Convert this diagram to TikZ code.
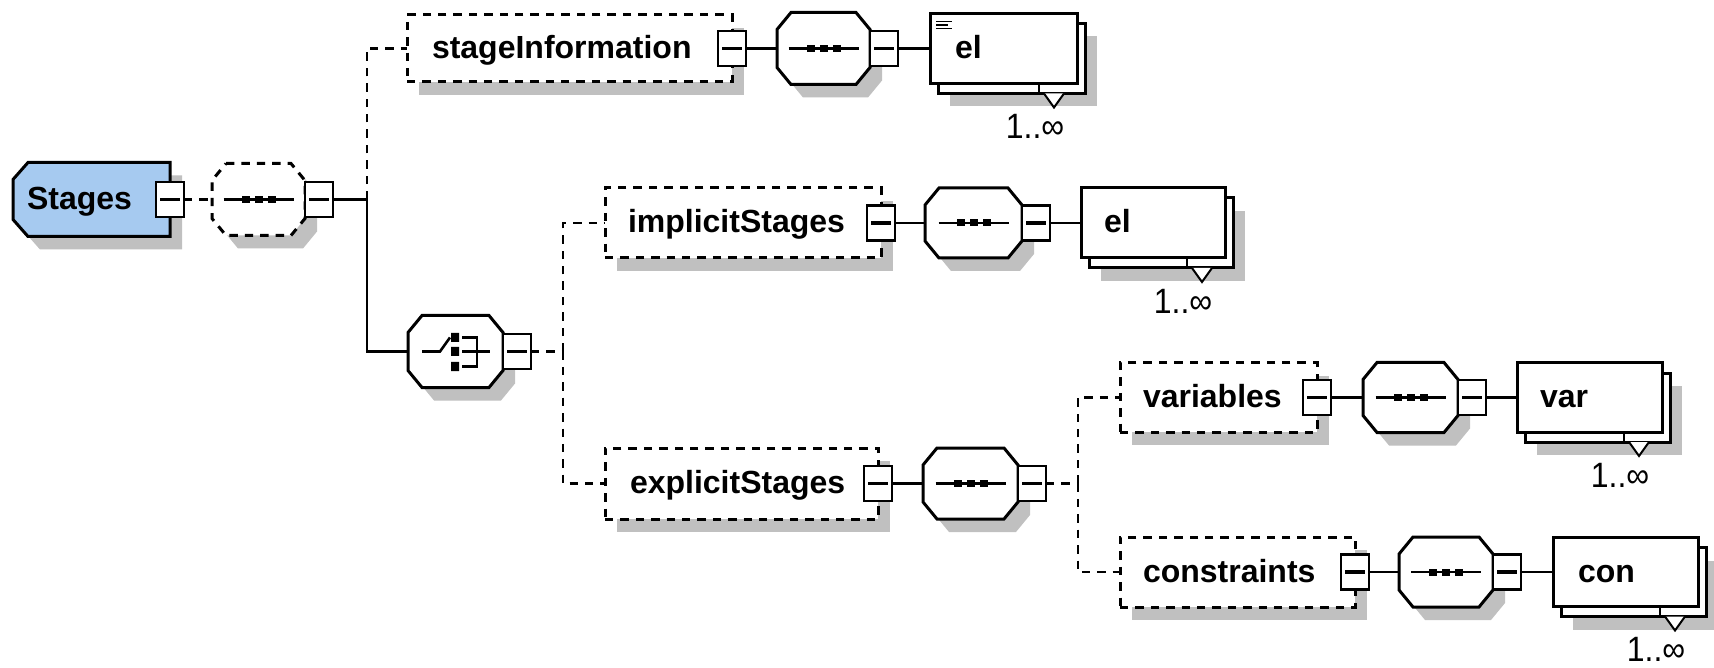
\documentclass[tikz,border=0pt]{standalone}
\usepackage{fontspec}
\setmainfont{Liberation Sans}
\definecolor{shadowgray}{RGB}{192,192,192}
\definecolor{rootfill}{RGB}{166,202,240}
\pgfdeclarelayer{bg}
\pgfsetlayers{bg,main}

% octagonal outline round the bounds of node #1, moved by #2, drawn with options #3
\newcommand\octo[3]{%
  \path[#3] ([shift={#2},xshift=7pt]#1.north west) -- ([shift={#2},xshift=-7pt]#1.north east)
    -- ([shift={#2},yshift=-8.5pt]#1.north east) -- ([shift={#2},yshift=8.5pt]#1.south east)
    -- ([shift={#2},xshift=-7pt]#1.south east) -- ([shift={#2},xshift=7pt]#1.south west)
    -- ([shift={#2},yshift=8.5pt]#1.south west) -- ([shift={#2},yshift=-8.5pt]#1.north west) -- cycle;}

\begin{document}
\begin{tikzpicture}[x=0.5pt,y=-0.5pt,
  every node/.style={inner sep=0pt,outer sep=0pt},
  conn/.style={line width=1.3pt},
  opt/.style={dash pattern=on 4.2pt off 3.5pt},
  tag/.style={font=\bfseries\fontsize{16}{19}\selectfont,text height=10pt,text depth=0pt,align=left},
  elemopt/.style={tag,draw,opt,fill=white,line width=1.5pt},
  elemreq/.style={tag,draw,fill=white,line width=1.5pt},
  elemback/.style={draw,fill=white,line width=1.5pt},
  hub/.style 2 args={minimum width=#1,minimum height=#2},
  minusbox/.style={draw,fill=white,line width=1.3pt,minimum width=14pt,minimum height=17.5pt,
    path picture={\draw[line width=1.6pt] ([xshift=2pt]path picture bounding box.west) -- ([xshift=-2pt]path picture bounding box.east);}},
  mult/.style={font=\fontsize{16}{19}\selectfont}]

\useasboundingbox (0,0) rectangle (1714,668);

% root element and its optional sequence
\node[tag,minimum width=78.5pt,minimum height=37pt,inner xsep=7pt,text width=64.5pt] (stages) at (91.5,199.5) {Stages};
\node[minusbox] (stages-m) at (stages.east) {};
\node[hub={46.5pt}{36pt}] (seq0) at (258.5,199.5) {};
\node[minusbox,anchor=west] (seq0-m) at (seq0.east) {};
\coordinate (bus1) at (367,199.5);

% stageInformation branch
\node[elemopt,minimum width=162.5pt,minimum height=33.5pt,inner xsep=12.5pt,text width=137.5pt] (si) at (569.5,48.5) {stageInformation};
\node[minusbox] (si-m) at (si.east) {};
\node[hub={46.5pt}{36pt}] (seq1) at (823.5,48.5) {};
\node[minusbox,anchor=west] (seq1-m) at (seq1.east) {};
\node[elemback,minimum width=73.5pt,minimum height=35pt] (el1-back) at (1011.5,58.5) {};
\node[elemreq,minimum width=73.5pt,minimum height=35pt,inner xsep=12.5pt,text width=48.5pt] (el1) at (1003.5,48.5) {el};

% choice
\node[hub={47.5pt}{36pt}] (choice) at (455.5,351.5) {};
\node[minusbox,anchor=west] (choice-m) at (choice.east) {};
\coordinate (bus2) at (563,351.5);

% implicitStages branch
\node[elemopt,minimum width=138pt,minimum height=35pt,inner xsep=11.5pt,text width=115pt] (impl) at (743,223) {implicitStages};
\node[minusbox] (impl-m) at (impl.east) {};
\node[hub={48.5pt}{35pt}] (seq2) at (973.5,223) {};
\node[minusbox,anchor=west] (seq2-m) at (seq2.east) {};
\node[elemback,minimum width=72pt,minimum height=35pt] (el2-back) at (1161,233) {};
\node[elemreq,minimum width=72pt,minimum height=35pt,inner xsep=11.5pt,text width=49pt] (el2) at (1153,223) {el};

% explicitStages branch
\node[elemopt,minimum width=136.5pt,minimum height=35.5pt,inner xsep=12.5pt,text width=111.5pt] (expl) at (741.5,483.5) {explicitStages};
\node[minusbox] (expl-m) at (expl.east) {};
\node[hub={47.5pt}{35.5pt}] (seq3) at (970.5,483.5) {};
\node[minusbox,anchor=west] (seq3-m) at (seq3.east) {};
\coordinate (bus3) at (1078,483.5);

% variables
\node[elemopt,minimum width=98.5pt,minimum height=34.5pt,inner xsep=11.5pt,text width=75.5pt] (vars) at (1218.5,397.5) {variables};
\node[minusbox] (vars-m) at (vars.east) {};
\node[hub={47.5pt}{35pt}] (seq4) at (1410.5,397.5) {};
\node[minusbox,anchor=west] (seq4-m) at (seq4.east) {};
\node[elemback,minimum width=72.5pt,minimum height=34.5pt] (var-back) at (1597.5,407.5) {};
\node[elemreq,minimum width=72.5pt,minimum height=34.5pt,inner xsep=11.5pt,text width=49.5pt] (var) at (1589.5,397.5) {var};

% constraints
\node[elemopt,minimum width=117.5pt,minimum height=35pt,inner xsep=11.5pt,text width=94.5pt] (cons) at (1237.5,572) {constraints};
\node[minusbox] (cons-m) at (cons.east) {};
\node[hub={47pt}{35pt}] (seq5) at (1446,572) {};
\node[minusbox,anchor=west] (seq5-m) at (seq5.east) {};
\node[elemback,minimum width=72.5pt,minimum height=34.5pt] (con-back) at (1633.5,582) {};
\node[elemreq,minimum width=72.5pt,minimum height=34.5pt,inner xsep=12.5pt,text width=47.5pt] (con) at (1625.5,572) {con};

% multiplicity notches and labels
\foreach \n in {el1,el2,var,con}{
  \draw[line width=1.2pt] ([xshift=-23pt,yshift=5pt]\n-back.south east) -- ([xshift=-23pt]\n-back.south east);
  \filldraw[fill=white,line width=1pt] ([xshift=-20.5pt]\n-back.south east) -- ([xshift=-15.5pt,yshift=-7pt]\n-back.south east) -- ([xshift=-10.5pt]\n-back.south east);
  \node[mult] (\n-n) at ([xshift=-25pt,yshift=-16.5pt]\n-back.south east) {\scalebox{1}[1.1]{1..∞}};
}

% documentation mark on the first el
\draw[line width=0.8pt] ([xshift=3pt,yshift=-4pt]el1.north west) -- ++(16,0)
  ([xshift=3pt,yshift=-5.75pt]el1.north west) -- ++(12,0)
  ([xshift=3pt,yshift=-7.5pt]el1.north west) -- ++(16,0);

% sequence icons
\foreach \n in {seq0,seq1,seq2,seq3,seq4,seq5}{
  \begin{scope}[shift={(\n.center)}]
    \draw[line width=1.3pt] (-35,0) -- (35,0);
    \foreach \d in {-13,0,13} \fill (\d-4,-3.5) rectangle (\d+4,3.5);
  \end{scope}
}

% choice icon
\begin{scope}[shift={(choice.center)},line width=1.3pt]
  \draw (-33.5,0) -- (-15.5,0) -- (-5.5,-14);
  \fill (-4.5,-18.5) rectangle (3.5,-9.5) (-4.5,-4.5) rectangle (3.5,4.5) (-4.5,10.5) rectangle (3.5,19.5);
  \draw (6.5,-14) -- (21.5,-14) -- (21.5,15) -- (6.5,15);
  \draw (6.5,0) -- (34.5,0);
\end{scope}

% connectors
\draw[conn,opt] (stages-m.east) -- (seq0.west);
\draw[conn] (seq0-m.east) -- (bus1);
\draw[conn,opt] (bus1) |- (si.west);
\draw[conn] (bus1) |- (choice.west);
\draw[conn] (si-m.east) -- (seq1.west);
\draw[conn] (seq1-m.east) -- (el1.west);
\draw[conn,opt] (choice-m.east) -- (bus2);
\draw[conn,opt] (bus2) |- (impl.west);
\draw[conn,opt] (bus2) |- (expl.west);
\draw[conn] (impl-m.east) -- (seq2.west);
\draw[conn] (seq2-m.east) -- (el2.west);
\draw[conn] (expl-m.east) -- (seq3.west);
\draw[conn,opt] (seq3-m.east) -- (bus3);
\draw[conn,opt] (bus3) |- (vars.west);
\draw[conn,opt] (bus3) |- (cons.west);
\draw[conn] (vars-m.east) -- (seq4.west);
\draw[conn] (seq4-m.east) -- (var.west);
\draw[conn] (cons-m.east) -- (seq5.west);
\draw[conn] (seq5-m.east) -- (con.west);

% shadows and outlines underneath
\begin{pgfonlayer}{bg}
  \fill[white] (0,0) rectangle (1714,668);
  \foreach \n in {si,impl,expl,vars,cons,el1-back,el2-back,var-back,con-back}
    \fill[shadowgray] ([shift={(6pt,-6.5pt)}]\n.south west) rectangle ([shift={(6pt,-6.5pt)}]\n.north east);
  \foreach \n in {seq0,seq1,seq2,seq3,seq4,seq5,choice}
    \octo{\n}{(6pt,-6.5pt)}{fill=shadowgray};
  \fill[shadowgray] ([shift={(6pt,-6.5pt)},xshift=7.5pt]stages.north west) -- ([shift={(6pt,-6.5pt)}]stages.north east)
    -- ([shift={(6pt,-6.5pt)}]stages.south east) -- ([shift={(6pt,-6.5pt)},xshift=7.5pt]stages.south west)
    -- ([shift={(6pt,-6.5pt)},yshift=8.5pt]stages.south west) -- ([shift={(6pt,-6.5pt)},yshift=-8.5pt]stages.north west) -- cycle;
  \filldraw[fill=rootfill,line width=1.5pt] ([xshift=7.5pt]stages.north west) -- (stages.north east)
    -- (stages.south east) -- ([xshift=7.5pt]stages.south west)
    -- ([yshift=8.5pt]stages.south west) -- ([yshift=-8.5pt]stages.north west) -- cycle;
  \octo{seq0}{(0pt,0pt)}{draw,opt,fill=white,line width=1.5pt}
  \foreach \n in {seq1,seq2,seq3,seq4,seq5,choice}
    \octo{\n}{(0pt,0pt)}{draw,fill=white,line width=1.5pt};
\end{pgfonlayer}
\end{tikzpicture}
\end{document}
